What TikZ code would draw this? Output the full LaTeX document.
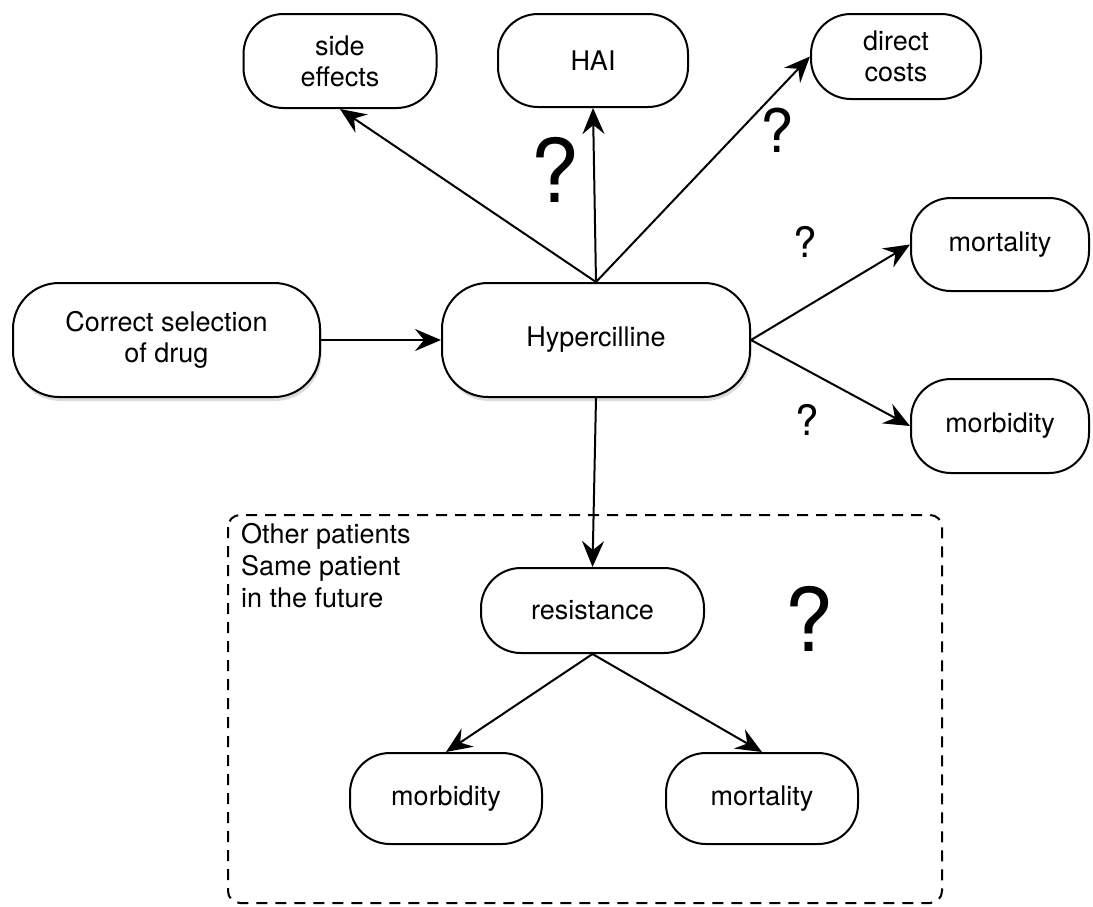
\documentclass[tikz,border=0pt]{standalone}
\usepackage{fontspec}
\setmainfont{TeX Gyre Heros}
\usetikzlibrary{arrows.meta,shadows}
\begin{document}
\begin{tikzpicture}[x=1pt,y=-1pt,
  box/.style={draw=black, line width=2pt, fill=white, rectangle, rounded corners=40pt,
    inner sep=0pt, align=center, font=\fontsize{27}{31}\selectfont},
  bigbox/.style={box, rounded corners=46pt,
    drop shadow={shadow xshift=1.5pt, shadow yshift=-4pt, opacity=0.28}},
  arr/.style={line width=2pt, -{Stealth[length=26pt, width=22pt, inset=9pt]}},
  qmark/.style={inner sep=0pt},
  dashbox/.style={line width=2pt, dash pattern=on 11pt off 8pt, rounded corners=12pt}
]
\useasboundingbox (0,0) rectangle (1093,906);

% dashed region
\draw[dashbox] (228,515) rectangle (942,903);
\node[anchor=north west, inner sep=0pt, align=left, font=\fontsize{27}{32}\selectfont] (grp) at (241,523)
  {Other patients\\Same patient\\in the future};

% nodes
\node[box, minimum width=193pt, minimum height=94pt] (sfx) at (340,61) {side\\effects};
\node[box, minimum width=190pt, minimum height=93pt] (hai) at (593,60.5) {HAI};
\node[box, minimum width=170pt, minimum height=85pt] (dc) at (896,56.5) {direct\\costs};
\node[box, minimum width=178pt, minimum height=93pt] (mortR) at (1000,244.5) {mortality};
\node[box, minimum width=178pt, minimum height=94pt] (morbR) at (1000,426) {morbidity};
\node[bigbox, minimum width=307pt, minimum height=114pt] (csd) at (166.5,340) {Correct selection\\of drug};
\node[bigbox, minimum width=308pt, minimum height=114pt] (hyp) at (596,340) {Hypercilline};
\node[box, minimum width=223pt, minimum height=85pt] (res) at (592.5,610.5) {resistance};
\node[box, minimum width=192pt, minimum height=91pt] (morbB) at (446,798.5) {morbidity};
\node[box, minimum width=192pt, minimum height=91pt] (mortB) at (762,798.5) {mortality};

% connectors
\draw[arr] (csd) -- (hyp);
\draw[arr] (hyp.north) -- (sfx.south);
\draw[arr] (hyp.north) -- (hai.south);
\draw[arr] (hyp.north) -- (dc.west);
\draw[arr] (hyp.east) -- (mortR.west);
\draw[arr] (hyp.east) -- (morbR.west);
\draw[arr] (hyp.south) -- (res.north);
\draw[arr] (res.south) -- (morbB.north);
\draw[arr] (res.south) -- (mortB.north);

% question marks
\node[qmark, font=\fontsize{88}{88}\selectfont] (q1) at (555,170) {?};
\node[qmark, font=\fontsize{60}{60}\selectfont] (q2) at (777,130) {?};
\node[qmark, font=\fontsize{42}{42}\selectfont] (q3) at (805,242) {?};
\node[qmark, font=\fontsize{42}{42}\selectfont] (q4) at (807,420) {?};
\node[qmark, font=\fontsize{88}{88}\selectfont] (q5) at (809,619) {?};
\end{tikzpicture}
\end{document}
